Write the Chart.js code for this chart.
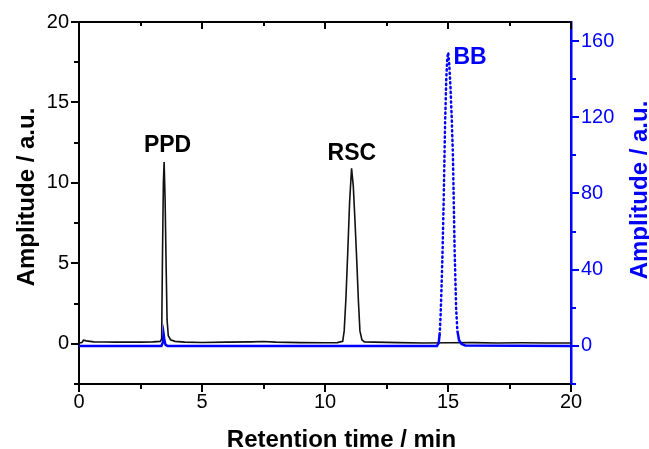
<!DOCTYPE html>
<html>
<head>
<meta charset="utf-8">
<script src="https://cdn.jsdelivr.net/npm/chart.js@4.4.1/dist/chart.umd.min.js"></script>
<style>
	html, body { margin: 0; padding: 0; background: #fff; }
	canvas { display: block; }
</style>
</head>
<body>
<canvas id="chart" width="649" height="449"></canvas>
<script>

	// black trace (left axis)
	var blackTime = [0, 0.12, 0.18, 0.3, 0.6, 1.0, 1.5, 2.0, 2.5, 3.0, 3.3, 3.36, 3.39, 3.43, 3.46, 3.5, 3.54, 3.58, 3.63, 3.72, 3.9, 4.3, 5.0, 6.0, 7.0, 7.5, 8.0, 9.0, 10.0, 10.5, 10.72, 10.78, 10.85, 10.92, 11.0, 11.08, 11.15, 11.22, 11.29, 11.36, 11.42, 11.5, 11.6, 12.0, 13.0, 14.0, 15.0, 16.0, 17.0, 18.0, 19.0, 20.0];
	var blackAmp = [0.05, 0.08, 0.22, 0.18, 0.12, 0.11, 0.1, 0.1, 0.1, 0.12, 0.15, 0.3, 5.0, 10.0, 11.3, 9.0, 5.0, 1.5, 0.5, 0.25, 0.15, 0.1, 0.08, 0.1, 0.12, 0.14, 0.1, 0.07, 0.06, 0.07, 0.15, 0.8, 2.8, 5.5, 8.8, 10.9, 9.8, 7.6, 5.2, 2.6, 0.8, 0.25, 0.12, 0.1, 0.07, 0.05, 0.06, 0.07, 0.05, 0.06, 0.05, 0.05];

	// blue trace (right axis)
	var blueTime = [0, 3.35, 3.41, 3.44, 3.47, 3.52, 3.6, 14.55, 14.62, 14.66, 14.7, 14.74, 14.78, 14.83, 14.88, 14.93, 14.97, 15.01, 15.05, 15.1, 15.15, 15.2, 15.27, 15.33, 15.38, 15.45, 15.55, 15.7, 20];
	var blueAmp = [0, 0, 2, 6, 3, 0.5, 0, 0, 1.5, 6, 16, 32, 50, 80, 116, 140, 151, 154, 148, 136, 120, 100, 50, 20, 8, 3, 1, 0.2, 0];

	var peakNames = ['PPD', 'RSC', 'BB'];
	var peakTimes = [3.6, 11.09, 15.22];
	var peakValues = [11.91, 11.4, 148.2];
	var peakAxes = ['y', 'y', 'y2'];

	var xTicks = [0, 5, 10, 15, 20];
	var yTicks = [0, 5, 10, 15, 20];
	var y2Ticks = [0, 40, 80, 120, 160];

	var uiFont = "'Liberation Sans', Arial, Helvetica, sans-serif";
	var blue = '#0000ff';

	function toPoints(xs, ys) {
		return xs.map(function(x, i) { return {x: x, y: ys[i]}; });
	}

	function minorsOf(majors, min, max) {
		var step = majors[1] - majors[0];
		var out = [];
		for (var v = majors[0] - step / 2; v <= max + 1e-9; v += step) {
			if (v >= min - 1e-9) out.push(v);
		}
		return out;
	}

	var tickMarks = {
		id: 'tickMarks',
		afterDraw: function(chart) {
			var ctx = chart.ctx;
			var a = chart.chartArea;
			var s = chart.scales;
			ctx.save();

			// ticks as thin filled boxes
			function vtick(x, y, len, color) {
				ctx.fillStyle = color;
				ctx.fillRect(Math.round(x) - 1, y, 2, len);
			}
			function htick(x, y, len, color) {
				ctx.fillStyle = color;
				ctx.fillRect(x, Math.round(y) - 1, len, 2);
			}

			// top frame
			ctx.fillStyle = '#000';
			ctx.fillRect(a.left - 1, a.top - 1, a.right - a.left + 1, 2);

			xTicks.forEach(function(v) {
				var px = s.x.getPixelForValue(v);
				vtick(px, a.bottom, 8, '#000');
				vtick(px, a.top, 7, '#000');
			});
			minorsOf(xTicks, 0, 20).forEach(function(v) {
				var px = s.x.getPixelForValue(v);
				vtick(px, a.bottom, 5, '#000');
				vtick(px, a.top, 4, '#000');
			});
			yTicks.forEach(function(v) {
				htick(a.left - 8, s.y.getPixelForValue(v), 8, '#000');
			});
			minorsOf(yTicks, s.y.min, s.y.max).forEach(function(v) {
				htick(a.left - 5, s.y.getPixelForValue(v), 5, '#000');
			});
			y2Ticks.forEach(function(v) {
				htick(a.right, s.y2.getPixelForValue(v), 8, blue);
			});
			minorsOf(y2Ticks, s.y2.min, s.y2.max).forEach(function(v) {
				htick(a.right, s.y2.getPixelForValue(v), 5, blue);
			});

			// peak names
			ctx.font = 'bold 23px ' + uiFont;
			ctx.textBaseline = 'alphabetic';
			peakNames.forEach(function(name, i) {
				var px = s.x.getPixelForValue(peakTimes[i]);
				var py = s[peakAxes[i]].getPixelForValue(peakValues[i]);
				ctx.fillStyle = peakAxes[i] == 'y2' ? blue : '#000';
				ctx.textAlign = peakAxes[i] == 'y2' ? 'left' : 'center';
				ctx.fillText(name, px, py);
			});

			// axis titles
			ctx.font = 'bold 24px ' + uiFont;
			ctx.textAlign = 'center';
			ctx.fillStyle = '#000';
			ctx.fillText('Retention time / min', 341.5, 446.5);
			ctx.save();
			ctx.translate(33.5, 197);
			ctx.rotate(-Math.PI / 2);
			ctx.fillText('Amplitude / a.u.', 0, 0);
			ctx.restore();
			ctx.save();
			ctx.fillStyle = blue;
			ctx.translate(646.5, 190);
			ctx.rotate(-Math.PI / 2);
			ctx.fillText('Amplitude / a.u.', 0, 0);
			ctx.restore();

			ctx.restore();
		}
	};

	var tickFont = { family: uiFont, size: 20 };

	new Chart(document.getElementById('chart').getContext('2d'), {
		type: 'line',
		data: {
			datasets: [
				{
					data: toPoints(blueTime, blueAmp),
					yAxisID: 'y2',
					borderColor: blue,
					borderWidth: 2.5,
					pointRadius: 0,
					tension: 0,
					segment: {
						borderDash: function(c) {
							return Math.max(c.p0.parsed.y, c.p1.parsed.y) > 8 ? [1.2, 3.6] : [];
						},
						borderCapStyle: function(c) {
							return Math.max(c.p0.parsed.y, c.p1.parsed.y) > 8 ? 'round' : 'butt';
						}
					}
				},
				{
					data: toPoints(blackTime, blackAmp),
					yAxisID: 'y',
					borderColor: '#111',
					borderWidth: 1.6,
					pointRadius: 0,
					tension: 0
				}
			]
		},
		options: {
			responsive: false,
			animation: false,
			layout: { padding: { top: 22, left: 0, right: 0, bottom: 0 } },
			plugins: { legend: { display: false }, tooltip: { enabled: false } },
			scales: {
				x: {
					type: 'linear', position: 'bottom', min: 0, max: 20,
					ticks: { stepSize: 5, font: tickFont, color: '#000', padding: 6, maxRotation: 0 },
					grid: { display: false, drawTicks: false },
					border: { color: '#000', width: 2 },
					afterFit: function(scale) { scale.height = 65; }
				},
				y: {
					type: 'linear', position: 'left', min: -2.5, max: 20,
					ticks: { stepSize: 5, includeBounds: false, font: tickFont, color: '#000', padding: 10 },
					grid: { display: false, drawTicks: false },
					border: { color: '#000', width: 2 },
					afterFit: function(scale) { scale.width = 79; }
				},
				y2: {
					type: 'linear', position: 'right', min: -20, max: 170,
					ticks: { stepSize: 40, includeBounds: false, font: tickFont, color: blue, padding: 10 },
					grid: { display: false, drawTicks: false },
					border: { color: blue, width: 2.5 },
					afterFit: function(scale) { scale.width = 78; }
				}
			}
		},
		plugins: [tickMarks]
	});

</script>
</body>
</html>
